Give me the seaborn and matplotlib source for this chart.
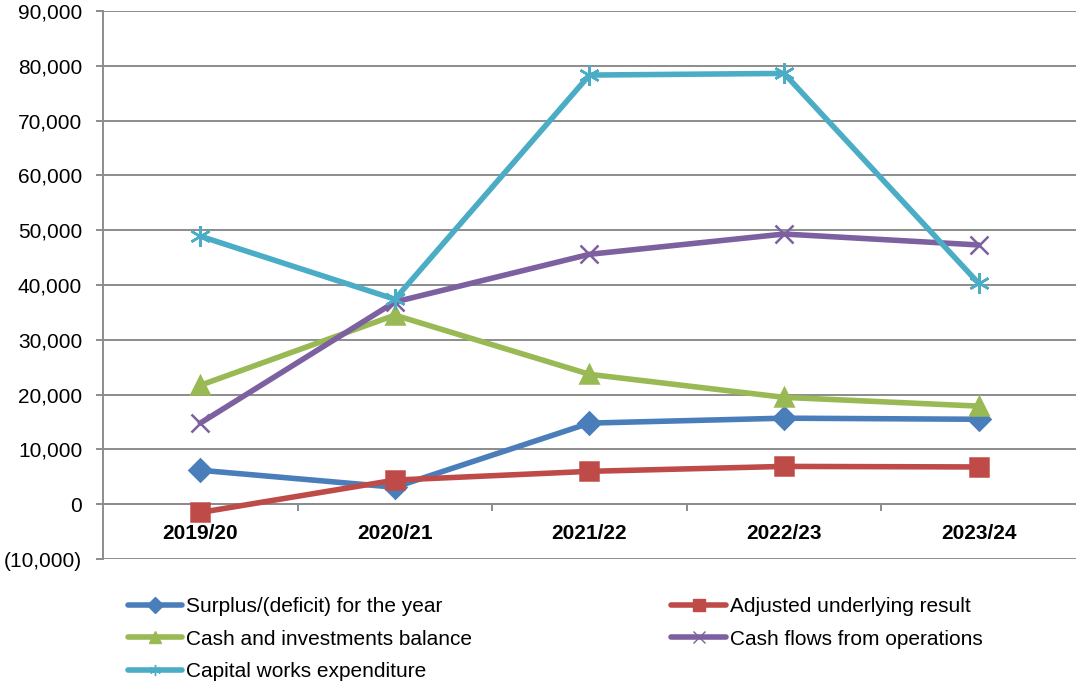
import pandas as pd
import matplotlib.pyplot as plt
import seaborn as sns
import numpy as np
from matplotlib.ticker import FuncFormatter, FixedLocator
from matplotlib.lines import Line2D

sns.set_style("white")
plt.rcParams['font.family'] = ['Liberation Sans', 'DejaVu Sans']
plt.rcParams['text.color'] = 'black'
plt.rcParams['xtick.color'] = 'black'
plt.rcParams['ytick.color'] = 'black'

# Data
years = ['2019/20', '2020/21', '2021/22', '2022/23', '2023/24']
surplus = [6200, 3100, 14800, 15700, 15500]
adjusted = [-1500, 4400, 6000, 6900, 6800]
cash_invest = [21700, 34500, 23700, 19500, 17900]
cash_flows = [14800, 36900, 45600, 49300, 47300]
capital_works = [48900, 37400, 78300, 78600, 40300]

series_names = [
    'Surplus/(deficit) for the year',
    'Adjusted underlying result',
    'Cash and investments balance',
    'Cash flows from operations',
    'Capital works expenditure',
]
series_values = [surplus, adjusted, cash_invest, cash_flows, capital_works]
colors = ['#4a7ebb', '#be4b48', '#98b954', '#7d60a0', '#4bacc6']
markers = ['D', 's', '^', 'x', (6, 2, 0)]
msizes = [11, 12.5, 12.5, 13, 15]

rows = []
for name, vals in zip(series_names, series_values):
    for i, v in enumerate(vals):
        rows.append({'series': name, 'idx': i, 'value': v})
df = pd.DataFrame(rows)

fig = plt.figure(figsize=(10.76, 6.84), dpi=100)
ax = fig.add_axes([0.0957, 0.1827, 0.9043, 0.8013])

grid_color = '#8c8c8c'
FS = 15
for name, c, m, ms in zip(series_names, colors, markers, msizes):
    sub = df[df['series'] == name]
    sns.lineplot(data=sub, x='idx', y='value', ax=ax, color=c, linewidth=4.0,
                 marker=m, markersize=ms, markeredgecolor=c, markeredgewidth=1.8,
                 legend=False, zorder=3)

ax.set_xlim(-0.5, 4.5)
ax.set_ylim(-10000, 90000)
ax.set_yticks(np.arange(-10000, 90001, 10000))
ax.yaxis.set_major_formatter(FuncFormatter(
    lambda v, p: '0' if v == 0 else (f'({abs(v):,.0f})' if v < 0 else f'{v:,.0f}')))
ax.grid(axis='y', color=grid_color, linewidth=1.4)
ax.grid(axis='x', visible=False)
ax.set_axisbelow(True)

for s in ['top', 'right']:
    ax.spines[s].set_visible(False)
ax.spines['left'].set_color(grid_color)
ax.spines['left'].set_linewidth(1.4)
ax.spines['bottom'].set_position(('data', 0))
ax.spines['bottom'].set_color(grid_color)
ax.spines['bottom'].set_linewidth(1.4)

# category boundaries as ticks, labels at centres
ax.xaxis.set_major_locator(FixedLocator([0.5, 1.5, 2.5, 3.5]))
ax.xaxis.set_major_formatter(FuncFormatter(lambda v, p: ''))
ax.xaxis.set_minor_locator(FixedLocator(range(len(years))))
ax.set_xticklabels(years, minor=True, fontweight='bold', fontsize=FS)
ax.tick_params(axis='x', which='major', direction='out', length=5, width=1.4,
               color=grid_color, bottom=True)
ax.tick_params(axis='x', which='minor', length=0, pad=14, labelcolor='black')
ax.tick_params(axis='y', direction='out', length=5, width=1.4, color=grid_color,
               left=True, labelsize=FS, pad=10, labelcolor='black')
ax.set_xlabel('')
ax.set_ylabel('')

handles = [Line2D([0], [0], color=c, linewidth=4.0, marker=m, markersize=8,
                  markeredgecolor=c) for c, m in zip(colors, markers)]
left_idx = [0, 2, 4]
right_idx = [1, 3]
leg_kw = dict(loc='upper left', frameon=False, fontsize=FS, handlelength=2.6,
              handletextpad=0.2, labelspacing=0.65, borderaxespad=0, borderpad=0)
fig.legend([handles[i] for i in left_idx], [series_names[i] for i in left_idx],
           bbox_to_anchor=(0.119, 0.127), **leg_kw)
fig.legend([handles[i] for i in right_idx], [series_names[i] for i in right_idx],
           bbox_to_anchor=(0.624, 0.127), **leg_kw)

fig.savefig('out.png', dpi=100)
